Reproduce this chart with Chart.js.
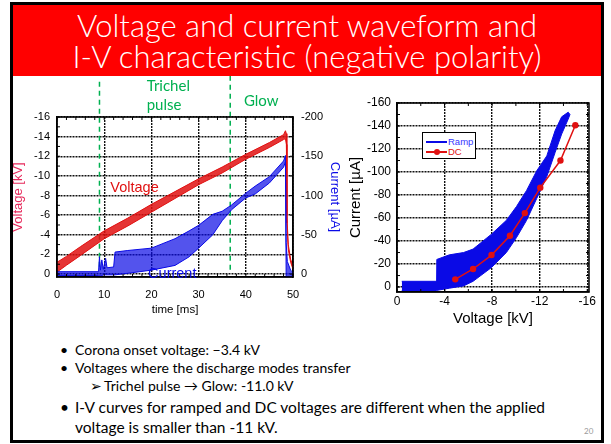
<!DOCTYPE html>
<html>
<head>
<meta charset="utf-8">
<script src="https://cdn.jsdelivr.net/npm/chart.js@4.4.1/dist/chart.umd.min.js"></script>
<style>
  html, body { margin: 0; padding: 0; background: #fff; }
  body { width: 611px; height: 444px; position: relative; overflow: hidden; font-family: Lato, "Open Sans", sans-serif; }
  .slide { position: absolute; left: 10px; top: 2px; width: 594px; height: 441px; box-sizing: border-box; border: 3px solid #000; z-index: 5; pointer-events: none; }
  .title { position: absolute; left: 13px; top: 5px; width: 588px; height: 71px; background: #ff0000; color: #fff; text-align: center; font-size: 31px; font-weight: 300; line-height: 31px; padding-top: 5px; box-sizing: border-box; }
  #waveBox { position: absolute; left: 0; top: 76px; }
  #ivBox { position: absolute; left: 340px; top: 80px; }
  .legend { position: absolute; left: 422px; top: 132px; width: 54px; height: 27px; box-sizing: border-box; border: 1px solid #000; background: #fff; font-family: "Liberation Sans", Arial, sans-serif; font-size: 9.5px; z-index: 3; }
  .legend .row { position: absolute; left: 3px; height: 10px; line-height: 10px; }
  .legend .sw { position: absolute; left: 0; top: 4px; width: 21px; height: 2px; }
  .legend .dot { position: absolute; left: 8px; top: 2px; width: 6px; height: 6px; border-radius: 50%; background: #e01010; }
  .legend .lbl { position: absolute; left: 22px; top: 0; }
  .note { position: absolute; font-size: 14px; line-height: 18px; color: #000; white-space: nowrap; }
  .note.big { font-size: 15.5px; line-height: 20px; }
  .page { position: absolute; left: 584px; top: 426px; font-size: 8px; color: #999; }
</style>
</head>
<body>
<div class="title">Voltage and current waveform and<br>I-V characteristic (negative polarity)</div>

<div id="waveBox"><canvas id="wave" width="345" height="246"></canvas></div>
<div id="ivBox"><canvas id="iv" width="262" height="250"></canvas></div>

<div class="legend">
  <div class="row" style="top:4px"><span class="sw" style="background:#0a0ae6"></span><span class="lbl" style="color:#3535ff">Ramp</span></div>
  <div class="row" style="top:14px"><span class="sw" style="background:#e01010"></span><span class="dot"></span><span class="lbl" style="color:#e01010">DC</span></div>
</div>

<div class="note" style="left:60px;top:341px">•</div>
<div class="note" style="left:75px;top:341px">Corona onset voltage: −3.4 kV</div>
<div class="note" style="left:60px;top:359px">•</div>
<div class="note" style="left:75px;top:359px">Voltages where the discharge modes transfer</div>
<div class="note" style="left:90px;top:377px">➢</div>
<div class="note" style="left:104px;top:377px">Trichel pulse → Glow: -11.0 kV</div>
<div class="note big" style="left:60px;top:397px">•</div>
<div class="note big" style="left:75px;top:397px">I-V curves for ramped and DC voltages are different when the applied</div>
<div class="note big" style="left:75px;top:417px">voltage is smaller than -11 kV.</div>
<div class="page">20</div>

<div class="slide"></div>

<script>
// ---- waveform: applied voltage [kV] and discharge current [uA] vs time [ms]
var voltTime = [0, 2, 5, 10, 15, 20, 25, 30, 35, 40, 45, 48, 48.4, 48.6, 48.7, 49.0, 49.5, 50];
var voltHigh = [-1.2, -1.8, -2.8, -4.4, -5.7, -7.1, -8.4, -9.7, -10.9, -12.2, -13.4, -14.2, -14.6, -14.3, -6.0, -3.0, -1.5, -0.8];
var voltLow = [-0.2, -0.9, -1.9, -3.6, -4.9, -6.3, -7.7, -9.1, -10.3, -11.7, -12.9, -13.7, -13.8, -13.2, -5.2, -2.5, -1.2, -0.5];

var curTime = [0, 8.8, 9.0, 9.2, 9.5, 9.8, 10.3, 10.6, 12.0, 12.3, 15, 20, 25, 28, 30, 33, 35, 37, 40, 42, 45, 48, 48.4, 48.55, 48.8, 49.5, 49.8, 50];
var curHigh = [-3, -3, -22, -5, -18, -6, -20, -8, -9, -28, -30, -33, -45, -55, -62, -76, -80, -88, -103, -112, -124, -144, -151, -40, -16, -5, -3, -2];
var curLow = [2, 2, 2, 2, 2, 1, 1, 1, 1, 1, -1, -5, -11, -22, -33, -50, -68, -82, -97, -102, -116, -136, -143, 3, 10, 9, 2, 0];

// Trichel pulse / glow boundaries [ms]
var modeTimes = [9.0, 36.7];

var timeTicks = [0, 10, 20, 30, 40, 50];
var voltTicks = [-16, -14, -12, -10, -8, -6, -4, -2, 0];
var curTicks = [-200, -150, -100, -50, 0];

// ---- I-V characteristic
var rampVolt = [-0.4, -3.3, -3.35, -4.4, -5.6, -6.4, -7.95, -9.2, -10.05, -10.9, -11.75, -12.6, -13.3, -13.85, -14.4, -14.55];
var rampHigh = [-5, -5, -24, -28, -30, -33, -46, -58, -70, -84, -101, -114, -136, -148, -152, -150];
var rampLow = [3, 3, 3, 1, -1, -5, -17, -30, -43, -58, -77, -96, -117, -133, -146, -150];

var dcVolt = [-4.9, -6.4, -7.95, -9.5, -10.75, -12.05, -13.75, -15.0];
var dcCur = [-6.7, -15.7, -27.8, -44.6, -64.3, -86.4, -110, -140.6];

var ivVoltTicks = [0, -4, -8, -12, -16];
var ivCurTicks = [-160, -140, -120, -100, -80, -60, -40, -20, 0];

var RED = '#e01010', BLUE = '#0a0ae6', GREEN = '#00b050';
var AXIS_FONT = '"Liberation Sans", Arial, sans-serif';

function xy(xs, ys) {
  return xs.map(function (x, i) { return { x: x, y: ys[i] }; });
}

function fixedTicks(list) {
  return function (scale) {
    scale.ticks = list.map(function (v) { return { value: v }; });
  };
}

// noisy trace drawn as a filled envelope between two edges
function band(xs, hi, lo, color, fillColor, axis) {
  return [
    { data: xy(xs, hi), borderColor: color, borderWidth: 1, pointRadius: 0, fill: false, yAxisID: axis },
    { data: xy(xs, lo), borderColor: color, backgroundColor: fillColor, borderWidth: 1, pointRadius: 0, fill: '-1', yAxisID: axis }
  ];
}

// plot frame with small inward minor ticks
var framePlugin = {
  id: 'frame',
  afterDatasetsDraw: function (chart, args, opts) {
    var ctx = chart.ctx, a = chart.chartArea;
    ctx.save();
    ctx.strokeStyle = '#000';
    ctx.lineWidth = 1;
    (opts.minor || []).forEach(function (m) {
      var s = chart.scales[m.axis];
      var lo = Math.min(s.min, s.max), hi = Math.max(s.min, s.max);
      for (var v = Math.ceil(lo / m.step) * m.step; v <= hi + 1e-9; v += m.step) {
        var p = s.getPixelForValue(v);
        m.edges.forEach(function (e) {
          ctx.beginPath();
          if (e === 'top') { ctx.moveTo(p, a.top); ctx.lineTo(p, a.top + 3); }
          if (e === 'bottom') { ctx.moveTo(p, a.bottom); ctx.lineTo(p, a.bottom - 3); }
          if (e === 'left') { ctx.moveTo(a.left, p); ctx.lineTo(a.left + 3, p); }
          if (e === 'right') { ctx.moveTo(a.right, p); ctx.lineTo(a.right - 3, p); }
          ctx.stroke();
        });
      }
    });
    ctx.lineWidth = 1.5;
    ctx.strokeRect(a.left, a.top, a.right - a.left, a.bottom - a.top);
    ctx.restore();
  }
};

// text labels placed in data coordinates
var textPlugin = {
  id: 'texts',
  afterDraw: function (chart, args, opts) {
    var ctx = chart.ctx;
    ctx.save();
    ctx.textBaseline = 'middle';
    ctx.textAlign = 'left';
    (opts.items || []).forEach(function (it) {
      ctx.font = it.font;
      ctx.fillStyle = it.color;
      ctx.fillText(it.text, chart.scales.x.getPixelForValue(it.x), chart.scales.y.getPixelForValue(it.y));
    });
    ctx.restore();
  }
};

var gridStyle = { color: '#111', lineWidth: 1.4, drawTicks: false };
var borderStyle = { color: '#000', width: 1.5, dash: [2, 1] };

// ---------------- waveform chart
var waveSets = []
  .concat(band(curTime, curHigh, curLow, BLUE, 'rgba(10,10,230,0.7)', 'y1'))
  .concat(band(voltTime, voltHigh, voltLow, RED, 'rgba(224,16,16,0.85)', 'y'));
modeTimes.forEach(function (t, i) {
  waveSets.push({
    data: [{ x: t, y: i === 0 ? -19.6 : -20.2 }, { x: t, y: -0.4 }],
    borderColor: GREEN, borderWidth: 1.5, borderDash: [5, 4], pointRadius: 0,
    fill: false, yAxisID: 'y', clip: false
  });
});

new Chart(document.getElementById('wave'), {
  type: 'line',
  data: { datasets: waveSets },
  options: {
    responsive: false,
    animation: false,
    events: [],
    layout: { padding: { top: 41, left: 0, right: 0, bottom: 0 } },
    plugins: {
      legend: { display: false },
      tooltip: { enabled: false },
      frame: {
        minor: [
          { axis: 'x', step: 2, edges: ['top', 'bottom'] },
          { axis: 'y', step: 1, edges: ['left'] },
          { axis: 'y1', step: 25, edges: ['right'] }
        ]
      },
      texts: {
        items: [
          { text: 'Trichel', x: 19.0, y: -19.1, color: GREEN, font: '15px Lato' },
          { text: 'pulse', x: 19.0, y: -17.2, color: GREEN, font: '15px Lato' },
          { text: 'Glow', x: 39.6, y: -17.6, color: GREEN, font: '15px Lato' },
          { text: 'Voltage', x: 11.3, y: -8.8, color: RED, font: '14.5px ' + AXIS_FONT },
          { text: 'Current', x: 19.3, y: 0, color: BLUE, font: '14.5px ' + AXIS_FONT }
        ]
      }
    },
    scales: {
      x: {
        type: 'linear', min: 0, max: 50,
        afterBuildTicks: fixedTicks(timeTicks),
        afterFit: function (s) { s.height = 45; },
        grid: gridStyle, border: borderStyle,
        ticks: { color: '#000', padding: 11, font: { family: AXIS_FONT, size: 11 } },
        title: { display: true, text: 'time [ms]', color: '#000', font: { family: AXIS_FONT, size: 11.5 }, padding: { top: 0, bottom: 5 } }
      },
      y: {
        type: 'linear', position: 'left', min: -16, max: 0.3, reverse: true,
        afterBuildTicks: fixedTicks(voltTicks),
        afterFit: function (s) { s.width = 57; },
        grid: gridStyle, border: borderStyle,
        ticks: { color: '#000', padding: 7, font: { family: AXIS_FONT, size: 11 }, callback: function (v) { return String(v); } },
        title: { display: true, text: 'Voltage [kV]', color: '#e6285a', font: { family: AXIS_FONT, size: 13 }, padding: { top: 11, bottom: 0 } }
      },
      y1: {
        type: 'linear', position: 'right', min: -200, max: 3.75, reverse: true,
        afterBuildTicks: fixedTicks(curTicks),
        afterFit: function (s) { s.width = 52; },
        grid: { drawOnChartArea: false, drawTicks: false },
        border: { color: '#000', width: 1.5 },
        ticks: { color: '#000', padding: 8, font: { family: AXIS_FONT, size: 11 }, callback: function (v) { return String(v); } },
        title: { display: true, text: 'Current [µA]', color: BLUE, font: { family: AXIS_FONT, size: 13 }, padding: { top: 3, bottom: 0 } }
      }
    }
  },
  plugins: [framePlugin, textPlugin]
});

// ---------------- I-V chart
var ivSets = [{
  data: xy(dcVolt, dcCur), borderColor: RED, backgroundColor: RED, borderWidth: 1.5,
  pointRadius: 3.2, pointBorderWidth: 0, fill: false
}].concat(band(rampVolt, rampHigh, rampLow, BLUE, BLUE, 'y'));

new Chart(document.getElementById('iv'), {
  type: 'line',
  data: { datasets: ivSets },
  options: {
    responsive: false,
    animation: false,
    events: [],
    layout: { padding: { top: 23, left: 0, right: 13, bottom: 0 } },
    plugins: {
      legend: { display: false },
      tooltip: { enabled: false },
      frame: {
        minor: [
          { axis: 'x', step: 2, edges: ['top', 'bottom'] },
          { axis: 'y', step: 10, edges: ['left', 'right'] }
        ]
      }
    },
    scales: {
      x: {
        type: 'linear', min: -16.15, max: 0, reverse: true,
        afterBuildTicks: fixedTicks(ivVoltTicks),
        afterFit: function (s) { s.height = 38; },
        grid: gridStyle, border: borderStyle,
        ticks: { color: '#000', padding: 2.5, font: { family: AXIS_FONT, size: 12 }, callback: function (v) { return String(v); } },
        title: { display: true, text: 'Voltage [kV]', color: '#000', font: { family: AXIS_FONT, size: 15 }, padding: { top: 0, bottom: 2 } }
      },
      y: {
        type: 'linear', min: -160, max: 4.3, reverse: true,
        afterBuildTicks: fixedTicks(ivCurTicks),
        afterFit: function (s) { s.width = 57; },
        grid: gridStyle, border: borderStyle,
        ticks: { color: '#000', padding: 6, font: { family: AXIS_FONT, size: 12 }, callback: function (v) { return String(v); } },
        title: { display: true, text: 'Current [µA]', color: '#000', font: { family: AXIS_FONT, size: 15 }, padding: { top: 7, bottom: 0 } }
      }
    }
  },
  plugins: [framePlugin]
});
</script>
</body>
</html>
